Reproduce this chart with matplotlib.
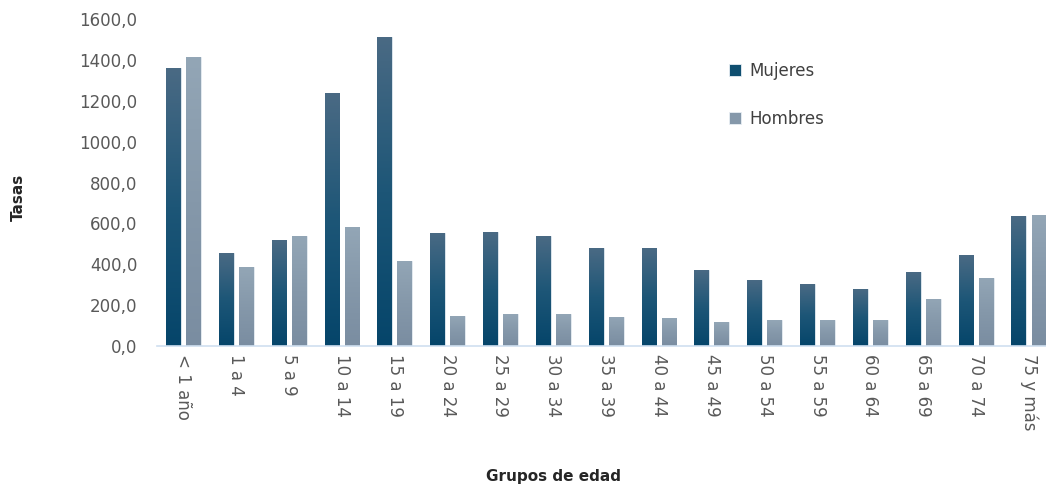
import numpy as np
import matplotlib
matplotlib.use("Agg")
import matplotlib.pyplot as plt
from matplotlib.colors import LinearSegmentedColormap

# datos
grupos = ["< 1 año", "1 a 4", "5 a 9", "10 a 14", "15 a 19", "20 a 24", "25 a 29",
          "30 a 34", "35 a 39", "40 a 44", "45 a 49", "50 a 54", "55 a 59",
          "60 a 64", "65 a 69", "70 a 74", "75 y más"]
mujeres = [1359, 455, 518, 1237, 1511, 553, 557, 538, 479, 479, 372, 323, 303, 279, 362, 445, 636]
hombres = [1413, 386, 538, 582, 416, 147, 156, 156, 142, 137, 117, 127, 127, 127, 230, 333, 641]

plt.rcParams['font.family'] = ['DejaVu Sans']

fig = plt.figure(figsize=(10.46, 4.87), dpi=100)
ax = fig.add_axes([157 / 1046, 1 - 346 / 487, 1 - 157 / 1046, (346 - 19) / 487])

x = np.arange(len(grupos))
w = 0.28
off = 0.19
b1 = ax.bar(x - off, mujeres, w, color="#0f4f70", edgecolor="#e8eef4", linewidth=0.6,
            label="Mujeres", zorder=2)
b2 = ax.bar(x + off, hombres, w, color="#8598aa", edgecolor="#e8eef4", linewidth=0.6,
            label="Hombres", zorder=2)

# degradado vertical dentro de cada barra
cm_m = LinearSegmentedColormap.from_list("m", ["#05456a", "#1d5677", "#4a6a84"])
cm_h = LinearSegmentedColormap.from_list("h", ["#7a8da1", "#8598aa", "#93a6b6"])
grad = np.linspace(0, 1, 256).reshape(-1, 1)
for bars, cmap in ((b1, cm_m), (b2, cm_h)):
    for p in bars:
        x0, y0, bw, bh = p.get_x(), p.get_y(), p.get_width(), p.get_height()
        im = ax.imshow(grad, extent=[x0, x0 + bw, y0, y0 + bh], origin="lower",
                       cmap=cmap, aspect="auto", zorder=2.5)
        im.set_clip_path(p)

ax.set_xlim(-0.5, (1046 - 182.5) / 52.9)
ax.set_ylim(0, 1600)
ax.set_yticks(np.arange(0, 1601, 200))
ax.set_yticklabels([f"{v:.1f}".replace(".", ",") for v in np.arange(0, 1601, 200)])
ax.set_xticks(x)
ax.set_xticklabels(grupos, rotation=270, ha="center", va="top")
ax.tick_params(axis="both", length=0, labelsize=12, labelcolor="#595959")
ax.tick_params(axis="y", pad=14)
ax.tick_params(axis="x", pad=6)

for s in ["top", "right", "left"]:
    ax.spines[s].set_visible(False)
ax.spines["bottom"].set_color("#cfdff0")
ax.spines["bottom"].set_linewidth(1.2)

fig.text(18 / 1046, 1 - 197 / 487, "Tasas", rotation=90, ha="center", va="center",
         fontsize=11, fontweight="bold", color="#262626")
fig.text(553 / 1046, 1 - 476 / 487, "Grupos de edad", ha="center", va="center",
         fontsize=11, fontweight="bold", color="#262626")

leg = ax.legend(loc="upper left", bbox_to_anchor=(714 / 1046, 1 - 47 / 487),
                bbox_transform=fig.transFigure, frameon=False, fontsize=12,
                handlelength=0.7, handleheight=0.7, handletextpad=0.5,
                labelspacing=1.8, labelcolor="#404040")

fig.savefig("out.png", dpi=100)
